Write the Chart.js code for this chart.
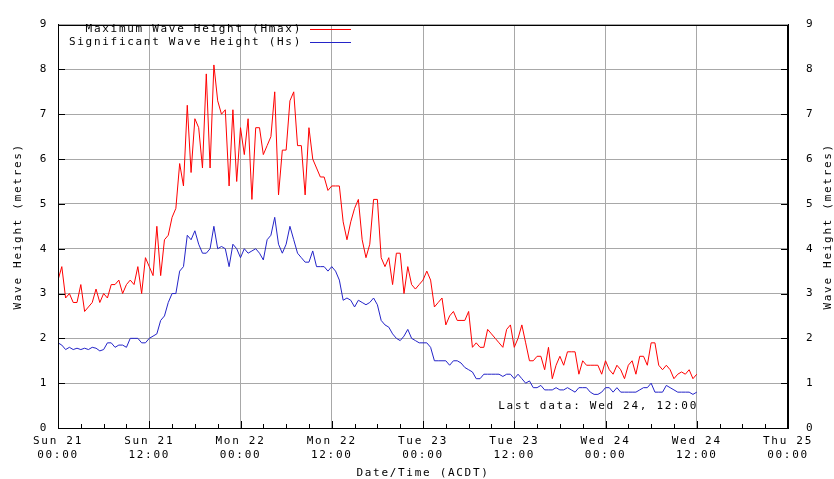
<!DOCTYPE html>
<html>
<head>
<meta charset="utf-8">
<script src="https://cdn.jsdelivr.net/npm/chart.js@4.4.1/dist/chart.umd.min.js"></script>
<style>
html, body { margin: 0; padding: 0; background: #fff; }
#wrap { width: 834px; height: 479px; }
</style>
</head>
<body>
<div id="wrap"><canvas id="waveChart"></canvas></div>
<script>
// tick labels, every 12 hours from Sun 21 00:00
const dayLabels = ["Sun 21", "Sun 21", "Mon 22", "Mon 22", "Tue 23", "Tue 23", "Wed 24", "Wed 24", "Thu 25"];
const timeLabels = ["00:00", "12:00", "00:00", "12:00", "00:00", "12:00", "00:00", "12:00", "00:00"];
const seriesNames = ["Maximum Wave Height (Hmax)", "Significant Wave Height (Hs)"];
const lastDataText = "Last data: Wed 24, 12:00";

// half-hourly readings (metres), one row = 6 hours
const hmax = [
    3.3, 3.6, 2.9, 3.0, 2.8, 2.8, 3.2, 2.6, 2.7, 2.8, 3.1, 2.8,
    3.0, 2.9, 3.2, 3.2, 3.3, 3.0, 3.2, 3.3, 3.2, 3.6, 3.0, 3.8,
    3.6, 3.4, 4.5, 3.4, 4.2, 4.3, 4.7, 4.9, 5.9, 5.4, 7.2, 5.7,
    6.9, 6.7, 5.8, 7.9, 5.8, 8.1, 7.3, 7.0, 7.1, 5.4, 7.1, 5.5,
    6.7, 6.1, 6.9, 5.1, 6.7, 6.7, 6.1, 6.3, 6.5, 7.5, 5.2, 6.2,
    6.2, 7.3, 7.5, 6.3, 6.3, 5.2, 6.7, 6.0, 5.8, 5.6, 5.6, 5.3,
    5.4, 5.4, 5.4, 4.6, 4.2, 4.6, 4.9, 5.1, 4.2, 3.8, 4.1, 5.1,
    5.1, 3.8, 3.6, 3.8, 3.2, 3.9, 3.9, 3.0, 3.6, 3.2, 3.1, 3.2,
    3.3, 3.5, 3.3, 2.7, 2.8, 2.9, 2.3, 2.5, 2.6, 2.4, 2.4, 2.4,
    2.6, 1.8, 1.9, 1.8, 1.8, 2.2, 2.1, 2.0, 1.9, 1.8, 2.2, 2.3,
    1.8, 2.0, 2.3, 1.9, 1.5, 1.5, 1.6, 1.6, 1.3, 1.8, 1.1, 1.4,
    1.6, 1.4, 1.7, 1.7, 1.7, 1.2, 1.5, 1.4, 1.4, 1.4, 1.4, 1.2,
    1.5, 1.3, 1.2, 1.4, 1.3, 1.1, 1.4, 1.5, 1.2, 1.6, 1.6, 1.4,
    1.9, 1.9, 1.4, 1.3, 1.4, 1.3, 1.1, 1.2, 1.25, 1.2, 1.3, 1.1,
    1.2
];
const hs = [
    1.9, 1.85, 1.75, 1.8, 1.75, 1.78, 1.75, 1.78, 1.75, 1.8, 1.78, 1.72,
    1.75, 1.9, 1.9, 1.8, 1.85, 1.85, 1.8, 2.0, 2.0, 2.0, 1.9, 1.9,
    2.0, 2.05, 2.1, 2.4, 2.5, 2.8, 3.0, 3.0, 3.5, 3.6, 4.3, 4.2,
    4.4, 4.1, 3.9, 3.9, 4.0, 4.5, 4.0, 4.05, 4.0, 3.6, 4.1, 4.0,
    3.8, 4.0, 3.9, 3.95, 4.0, 3.9, 3.75, 4.2, 4.3, 4.7, 4.1, 3.9,
    4.1, 4.5, 4.2, 3.9, 3.8, 3.7, 3.7, 3.95, 3.6, 3.6, 3.6, 3.5,
    3.6, 3.5, 3.3, 2.85, 2.9, 2.85, 2.7, 2.85, 2.8, 2.75, 2.8, 2.9,
    2.75, 2.4, 2.3, 2.25, 2.1, 2.0, 1.95, 2.05, 2.2, 2.0, 1.95, 1.9,
    1.9, 1.9, 1.8, 1.5, 1.5, 1.5, 1.5, 1.4, 1.5, 1.5, 1.45, 1.35,
    1.3, 1.25, 1.1, 1.1, 1.2, 1.2, 1.2, 1.2, 1.2, 1.15, 1.2, 1.2,
    1.1, 1.2, 1.1, 1.0, 1.05, 0.9, 0.9, 0.95, 0.85, 0.85, 0.85, 0.9,
    0.85, 0.85, 0.9, 0.85, 0.8, 0.9, 0.9, 0.9, 0.8, 0.75, 0.75, 0.8,
    0.9, 0.9, 0.8, 0.9, 0.8, 0.8, 0.8, 0.8, 0.8, 0.85, 0.9, 0.9,
    1.0, 0.8, 0.8, 0.8, 0.95, 0.9, 0.85, 0.8, 0.8, 0.8, 0.8, 0.75,
    0.8
];
const stepHours = 0.5;

const FONT = "'DejaVu Sans Mono', monospace";
const SPACING = "1.7px";
const RED = "#ff0000";
const BLUE = "#2424c8";
const GRID = "#a8a8a8";

const toPoints = arr => arr.map((v, i) => ({ x: i * stepHours, y: v }));

// gnuplot-ish extras: box, inward ticks, legend, note, right axis title
const decor = {
    id: "decor",
    beforeDraw(chart) {
        chart.ctx.letterSpacing = SPACING;
    },
    afterDraw(chart) {
        const ctx = chart.ctx;
        const area = chart.chartArea;
        const xs = chart.scales.x;
        const ys = chart.scales.y;
        ctx.save();
        ctx.letterSpacing = SPACING;
        ctx.strokeStyle = "#000";
        ctx.lineWidth = 1;
        ctx.strokeRect(Math.round(area.left) + 0.5, Math.round(area.top) + 0.5,
            Math.round(area.right - area.left) - 1, Math.round(area.bottom - area.top));

        ctx.beginPath();
        for (let h = 0; h <= 96; h += 3) {
            const px = Math.round(xs.getPixelForValue(h)) + 0.5;
            const len = h % 12 === 0 ? 7 : 4;
            ctx.moveTo(px, area.bottom);
            ctx.lineTo(px, area.bottom - len);
        }
        for (let v = 1; v < 9; v++) {
            const py = Math.round(ys.getPixelForValue(v)) + 0.5;
            ctx.moveTo(area.left, py);
            ctx.lineTo(area.left + 7, py);
            ctx.moveTo(area.right, py);
            ctx.lineTo(area.right - 7, py);
        }
        ctx.stroke();

        ctx.font = "11px " + FONT;
        ctx.fillStyle = "#000";
        ctx.textBaseline = "middle";
        ctx.textAlign = "right";
        const rows = [[seriesNames[0], RED, 29.5], [seriesNames[1], BLUE, 42.5]];
        rows.forEach(([txt, col, y]) => {
            ctx.fillText(txt, 302, y);
            ctx.strokeStyle = col;
            ctx.beginPath();
            ctx.moveTo(310, y);
            ctx.lineTo(351, y);
            ctx.stroke();
        });

        ctx.fillText(lastDataText, 698, 406);

        ctx.translate(828, (area.top + area.bottom) / 2);
        ctx.rotate(-Math.PI / 2);
        ctx.textAlign = "center";
        ctx.fillText("Wave Height (metres)", 0, 0);
        ctx.restore();
    }
};

const ctx = document.getElementById("waveChart").getContext("2d");
const tickFont = { family: FONT, size: 11, lineHeight: 1.2 };

new Chart(ctx, {
    type: "line",
    data: {
        datasets: [
            { label: seriesNames[0], data: toPoints(hmax), borderColor: RED, borderWidth: 1, pointRadius: 0, tension: 0 },
            { label: seriesNames[1], data: toPoints(hs), borderColor: BLUE, borderWidth: 1, pointRadius: 0, tension: 0 }
        ]
    },
    options: {
        responsive: true,
        maintainAspectRatio: false,
        animation: false,
        devicePixelRatio: 1,
        layout: { padding: { top: 16, left: 0, right: 0, bottom: 0 } },
        plugins: {
            legend: { display: false },
            tooltip: { enabled: false }
        },
        scales: {
            x: {
                type: "linear",
                position: "bottom",
                min: 0,
                max: 96,
                afterFit: s => { s.height = 51; },
                ticks: {
                    stepSize: 12,
                    autoSkip: false,
                    maxRotation: 0,
                    padding: 7,
                    color: "#000",
                    font: tickFont,
                    callback: (value, index) => [dayLabels[index], timeLabels[index]]
                },
                grid: { color: GRID, drawTicks: false },
                border: { color: "#000" },
                title: {
                    display: true,
                    text: "Date/Time (ACDT)",
                    color: "#000",
                    padding: { top: 0, bottom: 0 },
                    font: { family: FONT, size: 11, lineHeight: 1 }
                }
            },
            y: {
                position: "left",
                min: 0,
                max: 9,
                afterFit: s => { s.width = 58; },
                ticks: { stepSize: 1, padding: 10, color: "#000", font: tickFont },
                grid: { color: GRID, drawTicks: false },
                border: { color: "#000" },
                title: {
                    display: true,
                    text: "Wave Height (metres)",
                    color: "#000",
                    padding: { top: 12.5, bottom: 0 },
                    font: { family: FONT, size: 11, lineHeight: 1 }
                }
            },
            y2: {
                position: "right",
                min: 0,
                max: 9,
                afterFit: s => { s.width = 46; },
                ticks: { stepSize: 1, padding: 18, color: "#000", font: tickFont },
                grid: { display: false, drawTicks: false },
                border: { color: "#000" }
            }
        }
    },
    plugins: [decor]
});
</script>
</body>
</html>
